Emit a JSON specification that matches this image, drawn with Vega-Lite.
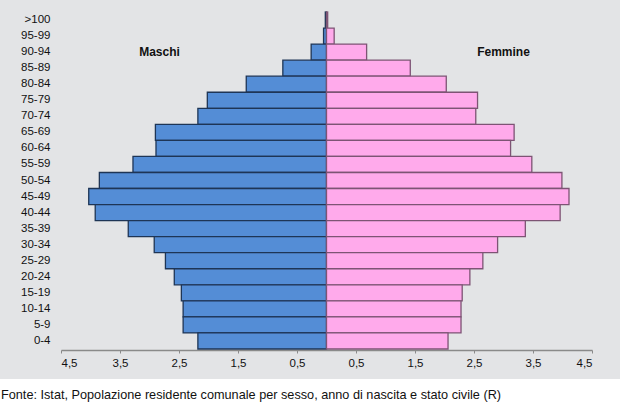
{
  "$schema": "https://vega.github.io/schema/vega-lite/v6.json",
  "width": 620,
  "height": 379,
  "autosize": {"type": "none"},
  "padding": {"left": 0, "top": 0, "right": 0, "bottom": 28},
  "background": "white",
  "config": {
    "view": {"fill": "#e3e4e6", "stroke": null},
    "font": "Liberation Sans"
  },
  "title": {
    "text": "Fonte: Istat, Popolazione residente comunale per sesso, anno di nascita e stato civile (R)",
    "orient": "bottom",
    "anchor": "start",
    "fontSize": 12.7,
    "fontWeight": "normal",
    "color": "#111111",
    "font": "Liberation Sans",
    "offset": 10,
    "dx": 1
  },
  "datasets": {
    "pop": [
      {"age": ">100", "sex": "Maschi", "v": -0.02},
      {"age": "95-99", "sex": "Maschi", "v": -0.05},
      {"age": "90-94", "sex": "Maschi", "v": -0.26},
      {"age": "85-89", "sex": "Maschi", "v": -0.74},
      {"age": "80-84", "sex": "Maschi", "v": -1.36},
      {"age": "75-79", "sex": "Maschi", "v": -2.02},
      {"age": "70-74", "sex": "Maschi", "v": -2.18},
      {"age": "65-69", "sex": "Maschi", "v": -2.9},
      {"age": "60-64", "sex": "Maschi", "v": -2.89},
      {"age": "55-59", "sex": "Maschi", "v": -3.28},
      {"age": "50-54", "sex": "Maschi", "v": -3.85},
      {"age": "45-49", "sex": "Maschi", "v": -4.03},
      {"age": "40-44", "sex": "Maschi", "v": -3.92},
      {"age": "35-39", "sex": "Maschi", "v": -3.36},
      {"age": "30-34", "sex": "Maschi", "v": -2.92},
      {"age": "25-29", "sex": "Maschi", "v": -2.73},
      {"age": "20-24", "sex": "Maschi", "v": -2.58},
      {"age": "15-19", "sex": "Maschi", "v": -2.46},
      {"age": "10-14", "sex": "Maschi", "v": -2.43},
      {"age": "5-9", "sex": "Maschi", "v": -2.43},
      {"age": "0-4", "sex": "Maschi", "v": -2.18},
      {"age": ">100", "sex": "Femmine", "v": 0.02},
      {"age": "95-99", "sex": "Femmine", "v": 0.13},
      {"age": "90-94", "sex": "Femmine", "v": 0.68},
      {"age": "85-89", "sex": "Femmine", "v": 1.42},
      {"age": "80-84", "sex": "Femmine", "v": 2.03},
      {"age": "75-79", "sex": "Femmine", "v": 2.56},
      {"age": "70-74", "sex": "Femmine", "v": 2.53},
      {"age": "65-69", "sex": "Femmine", "v": 3.18},
      {"age": "60-64", "sex": "Femmine", "v": 3.12},
      {"age": "55-59", "sex": "Femmine", "v": 3.48},
      {"age": "50-54", "sex": "Femmine", "v": 3.99},
      {"age": "45-49", "sex": "Femmine", "v": 4.11},
      {"age": "40-44", "sex": "Femmine", "v": 3.96},
      {"age": "35-39", "sex": "Femmine", "v": 3.37},
      {"age": "30-34", "sex": "Femmine", "v": 2.9},
      {"age": "25-29", "sex": "Femmine", "v": 2.65},
      {"age": "20-24", "sex": "Femmine", "v": 2.43},
      {"age": "15-19", "sex": "Femmine", "v": 2.3},
      {"age": "10-14", "sex": "Femmine", "v": 2.28},
      {"age": "5-9", "sex": "Femmine", "v": 2.28},
      {"age": "0-4", "sex": "Femmine", "v": 2.06}
    ],
    "labels": [
      {"label": "Maschi", "x": -2.83, "age": "90-94"},
      {"label": "Femmine", "x": 3.0, "age": "90-94"}
    ]
  },
  "encoding": {
    "y": {
      "field": "age",
      "type": "nominal",
      "sort": [">100","95-99","90-94","85-89","80-84","75-79","70-74","65-69","60-64","55-59","50-54","45-49","40-44","35-39","30-34","25-29","20-24","15-19","10-14","5-9","0-4"],
      "scale": {"range": [12, 349], "paddingInner": 0, "paddingOuter": 0},
      "axis": {
        "title": null,
        "domain": false,
        "ticks": false,
        "offset": -52,
        "labelPadding": 2,
        "labelFontSize": 11.5,
        "labelColor": "#111111",
        "labelFont": "Liberation Sans"
      }
    }
  },
  "layer": [
    {
      "data": {"name": "pop"},
      "mark": {"type": "bar", "strokeWidth": 1.3, "opacity": 1},
      "encoding": {
        "x": {
          "field": "v",
          "type": "quantitative",
          "scale": {"domain": [-4.5, 4.5], "range": [61, 592], "nice": false, "zero": false},
          "axis": {
            "title": null,
            "values": [-4.5, -3.5, -2.5, -1.5, -0.5, 0.5, 1.5, 2.5, 3.5, 4.5],
            "labelExpr": "replace(format(abs(datum.value), '.1f'), '.', ',')",
            "offset": -29,
            "grid": false,
            "domainColor": "#8a8a8a",
            "domainWidth": 1.5,
            "tickColor": "#8a8a8a",
            "tickSize": 3,
            "labelPadding": 4,
            "labelFontSize": 11.5,
            "labelColor": "#111111",
            "labelFont": "Liberation Sans"
          }
        },
        "fill": {
          "field": "sex",
          "type": "nominal",
          "scale": {"domain": ["Maschi", "Femmine"], "range": ["#548dd6", "#ffaaeb"]},
          "legend": null
        },
        "stroke": {
          "field": "sex",
          "type": "nominal",
          "scale": {"domain": ["Maschi", "Femmine"], "range": ["#1e3556", "#7d5474"]},
          "legend": null
        }
      }
    },
    {
      "data": {"name": "pop"},
      "transform": [{"filter": "datum.sex == 'Maschi'"}],
      "mark": {"type": "rule", "color": "#000000", "strokeWidth": 2},
      "encoding": {
        "x": {"datum": 0, "type": "quantitative"}
      }
    },
    {
      "data": {"name": "labels"},
      "mark": {"type": "text", "fontWeight": "bold", "fontSize": 12, "font": "Liberation Sans", "color": "#111111"},
      "encoding": {
        "x": {"field": "x", "type": "quantitative"},
        "text": {"field": "label"}
      }
    }
  ]
}
